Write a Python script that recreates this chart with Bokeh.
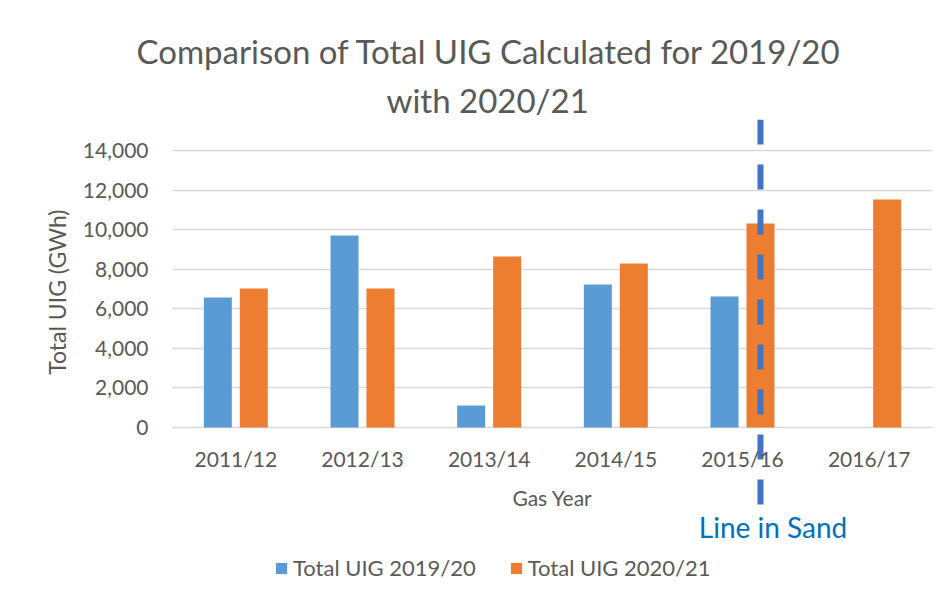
import math
from bokeh.plotting import figure
from bokeh.models import (ColumnDataSource, FactorRange, Range1d, FixedTicker,
                          NumeralTickFormatter, Title)
from bokeh.transform import dodge
from bokeh.core.properties import value
from bokeh.embed import file_html
from bokeh.resources import INLINE

# ---------------- data ----------------
years = ["2011/12", "2012/13", "2013/14", "2014/15", "2015/16", "2016/17"]
uig_2019_20 = [6570, 9700, 1110, 7230, 6620, float("nan")]
uig_2020_21 = [7030, 7030, 8640, 8290, 10310, 11520]
y_ticks = [0, 2000, 4000, 6000, 8000, 10000, 12000, 14000]
series_names = ["Total UIG 2019/20", "Total UIG 2020/21"]
line_year = ["2015/16"]
line_label = ["Line in Sand"]
title_lines = ["Comparison of Total UIG Calculated for 2019/20", "with 2020/21"]
x_label = "Gas Year"
y_label = "Total UIG (GWh)"

# ---------------- style ----------------
FONT = "Lato"
GREY = "#595959"
BLUE = "#5B9BD5"
ORANGE = "#ED7D31"
LINE_BLUE = "#4472C4"
TEXT_BLUE = "#0070C0"

# vertical layout (value space)
Y_START, Y_END = -8036, 15567
LINE_TOP, LINE_BOTTOM = 15567, -3892
LABEL_Y = -5054

p = figure(width=933, height=586, output_backend="svg", toolbar_location=None,
           x_range=FactorRange(*years, range_padding=0),
           y_range=Range1d(Y_START, Y_END))
p.min_border_left = 172
p.min_border_right = 1
p.min_border_top = 119
p.min_border_bottom = 0
p.outline_line_color = None
p.background_fill_color = "white"
p.border_fill_color = "white"
p.title.visible = False

src = ColumnDataSource(dict(years=years, a=uig_2019_20, b=uig_2020_21))
p.vbar(x=dodge("years", -0.142, range=p.x_range), top="a", width=0.221,
       source=src, fill_color=BLUE, line_color=None, legend_label=series_names[0])
p.vbar(x=dodge("years", 0.142, range=p.x_range), top="b", width=0.221,
       source=src, fill_color=ORANGE, line_color=None, legend_label=series_names[1])

lsrc = ColumnDataSource(dict(x=line_year, y0=[LINE_TOP], y1=[LINE_BOTTOM], t=line_label, ty=[LABEL_Y]))
p.segment(x0=dodge("x", 0.142, range=p.x_range), x1=dodge("x", 0.142, range=p.x_range),
          y0="y0", y1="y1", source=lsrc, line_color=LINE_BLUE, line_width=6,
          line_dash="25 20", line_cap="butt")
p.text(x=dodge("x", -0.345, range=p.x_range), y="ty", text="t", source=lsrc,
       text_font=value(FONT), text_font_size="28px", text_color=TEXT_BLUE,
       text_baseline="middle", text_align="left")

# grid
p.xgrid.visible = False
p.ygrid.ticker = FixedTicker(ticks=y_ticks)
p.ygrid.grid_line_color = "#D9D9D9"
p.ygrid.grid_line_width = 1.3

# y axis
yax = p.yaxis[0]
yax.ticker = FixedTicker(ticks=y_ticks)
yax.formatter = NumeralTickFormatter(format="0,0")
yax.axis_line_color = None
yax.major_tick_line_color = None
yax.minor_tick_line_color = None
yax.major_tick_out = 0
yax.major_label_standoff = 24
yax.major_label_text_font = FONT
yax.major_label_text_font_size = "21px"
yax.major_label_text_color = GREY

# x axis at value 0
xax = p.xaxis[0]
xax.fixed_location = 0
xax.axis_line_color = None
xax.major_tick_line_color = None
xax.minor_tick_line_color = None
xax.major_tick_out = 0
xax.major_label_standoff = 18
xax.major_label_text_font = FONT
xax.major_label_text_font_size = "21px"
xax.major_label_text_color = GREY
xax.axis_label = x_label
xax.axis_label_standoff = 11
xax.axis_label_text_font = FONT
xax.axis_label_text_font_size = "21px"
xax.axis_label_text_font_style = "normal"
xax.axis_label_text_color = GREY

# titles (second line closest to the frame)
p.add_layout(Title(text=title_lines[1], align="left", offset=214, standoff=0,
                   text_font=FONT, text_font_size="33px", text_font_style="normal",
                   text_color=GREY), "above")
p.add_layout(Title(text=title_lines[0], align="left", offset=-36, standoff=13,
                   text_font=FONT, text_font_size="33px", text_font_style="normal",
                   text_color=GREY), "above")
p.add_layout(Title(text=y_label, align="right", offset=90, standoff=17,
                   text_font=FONT, text_font_size="23px", text_font_style="normal",
                   text_color=GREY), "left")

# legend
lg = p.legend[0]
lg.orientation = "horizontal"
lg.location = (102, 5)
lg.glyph_width = 14
lg.glyph_height = 14
lg.label_standoff = 5
lg.spacing = 33
lg.padding = 0
lg.margin = 0
lg.border_line_color = None
lg.background_fill_alpha = 0
lg.label_text_font = FONT
lg.label_text_font_size = "22px"
lg.label_text_color = GREY

open("out.html", "w").write(file_html(p, INLINE))
